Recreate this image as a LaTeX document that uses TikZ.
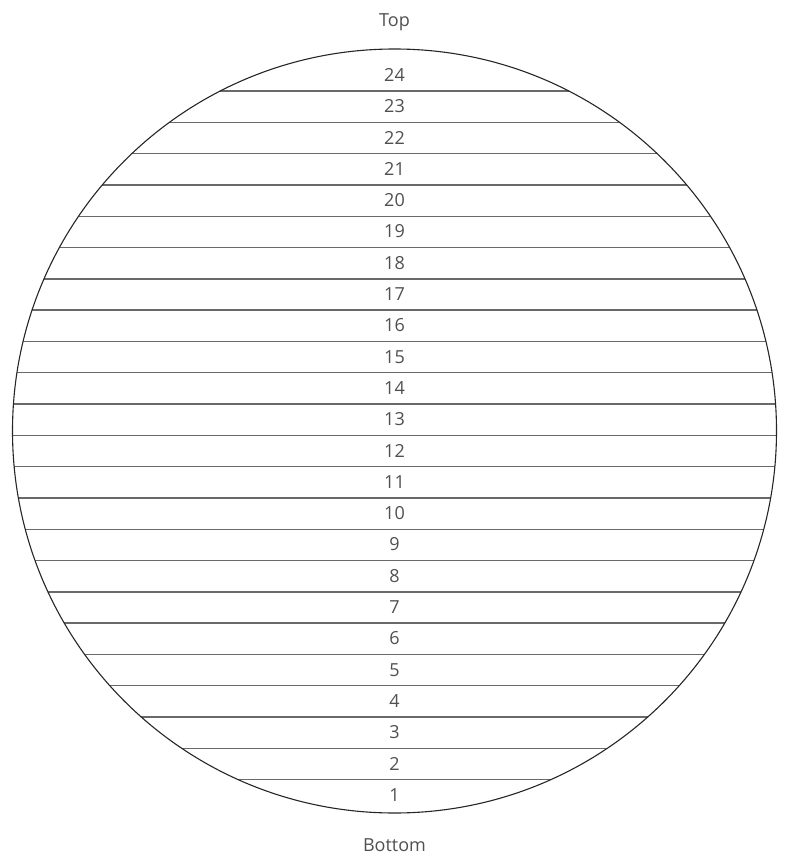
\documentclass[tikz,border=0pt]{standalone}
\usepackage{fontspec}
\setmainfont{Open Sans}
\definecolor{txt}{RGB}{80,80,80}
\definecolor{band}{RGB}{105,105,105}
\begin{document}
\begin{tikzpicture}[x=1pt,y=-1pt,
  lbl/.style={text=txt,font=\fontsize{18}{20}\selectfont,inner sep=0pt},
  ring/.style={draw=black!85,line width=1.1pt},
  divider/.style={draw=band,line width=1.4pt}]
\useasboundingbox (0,0) rectangle (784,856);
\def\cx{394.5}\def\cy{431}\def\R{382}
\foreach \i in {1,...,23}{
  \pgfmathsetmacro{\yy}{91+31.3*(\i-1)}
  \pgfmathsetmacro{\t}{(\cy-\yy)/\R}
  \pgfmathsetmacro{\dx}{\R*sqrt(1-\t*\t)}
  \coordinate (L\i) at (\cx-\dx,\yy);
  \coordinate (R\i) at (\cx+\dx,\yy);
  \draw[divider] (L\i) -- (R\i);
}
\node[circle,ring,minimum size=764pt,inner sep=0pt] (c) at (\cx,\cy) {};
\foreach \n in {1,...,24}{
  \node[lbl] (n\n) at (\cx,{75+31.3*(24-\n)}) {\n};
}
\node[lbl,anchor=base] (top) at (\cx,26.7) {Top};
\node[lbl,anchor=base] (bottom) at (\cx,851.7) {Bottom};
\end{tikzpicture}
\end{document}
